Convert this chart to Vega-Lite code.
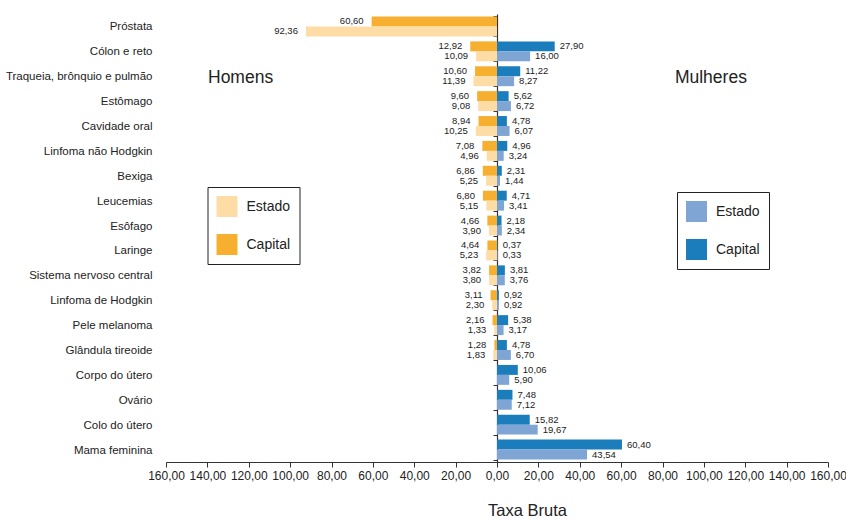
{
  "$schema": "https://vega.github.io/schema/vega-lite/v6.json",
  "width": 662,
  "height": 448,
  "autosize": "none",
  "padding": {"left": 166, "top": 14, "right": 18, "bottom": 57},
  "background": "white",
  "config": {
    "font": "'Liberation Sans', Arial, sans-serif",
    "view": {"stroke": null},
    "legend": {
      "orient": "none",
      "strokeColor": "#222",
      "fillColor": "white",
      "padding": 9,
      "symbolType": "square",
      "symbolSize": 441,
      "symbolStrokeWidth": 0,
      "labelFontSize": 14,
      "labelColor": "#222",
      "labelOffset": 9,
      "rowPadding": 17,
      "title": null,
      "labelExpr": "datum.label + '\u00a0\u00a0\u00a0\u00a0'"
    }
  },
  "data": {
    "values": [
      {"cancer": "Próstata", "sexo": "Homens", "tipo": "Capital", "valor": 60.60},
      {"cancer": "Próstata", "sexo": "Homens", "tipo": "Estado", "valor": 92.36},
      {"cancer": "Cólon e reto", "sexo": "Homens", "tipo": "Capital", "valor": 12.92},
      {"cancer": "Cólon e reto", "sexo": "Homens", "tipo": "Estado", "valor": 10.09},
      {"cancer": "Cólon e reto", "sexo": "Mulheres", "tipo": "Capital", "valor": 27.90},
      {"cancer": "Cólon e reto", "sexo": "Mulheres", "tipo": "Estado", "valor": 16.00},
      {"cancer": "Traqueia, brônquio e pulmão", "sexo": "Homens", "tipo": "Capital", "valor": 10.60},
      {"cancer": "Traqueia, brônquio e pulmão", "sexo": "Homens", "tipo": "Estado", "valor": 11.39},
      {"cancer": "Traqueia, brônquio e pulmão", "sexo": "Mulheres", "tipo": "Capital", "valor": 11.22},
      {"cancer": "Traqueia, brônquio e pulmão", "sexo": "Mulheres", "tipo": "Estado", "valor": 8.27},
      {"cancer": "Estômago", "sexo": "Homens", "tipo": "Capital", "valor": 9.60},
      {"cancer": "Estômago", "sexo": "Homens", "tipo": "Estado", "valor": 9.08},
      {"cancer": "Estômago", "sexo": "Mulheres", "tipo": "Capital", "valor": 5.62},
      {"cancer": "Estômago", "sexo": "Mulheres", "tipo": "Estado", "valor": 6.72},
      {"cancer": "Cavidade oral", "sexo": "Homens", "tipo": "Capital", "valor": 8.94},
      {"cancer": "Cavidade oral", "sexo": "Homens", "tipo": "Estado", "valor": 10.25},
      {"cancer": "Cavidade oral", "sexo": "Mulheres", "tipo": "Capital", "valor": 4.78},
      {"cancer": "Cavidade oral", "sexo": "Mulheres", "tipo": "Estado", "valor": 6.07},
      {"cancer": "Linfoma não Hodgkin", "sexo": "Homens", "tipo": "Capital", "valor": 7.08},
      {"cancer": "Linfoma não Hodgkin", "sexo": "Homens", "tipo": "Estado", "valor": 4.96},
      {"cancer": "Linfoma não Hodgkin", "sexo": "Mulheres", "tipo": "Capital", "valor": 4.96},
      {"cancer": "Linfoma não Hodgkin", "sexo": "Mulheres", "tipo": "Estado", "valor": 3.24},
      {"cancer": "Bexiga", "sexo": "Homens", "tipo": "Capital", "valor": 6.86},
      {"cancer": "Bexiga", "sexo": "Homens", "tipo": "Estado", "valor": 5.25},
      {"cancer": "Bexiga", "sexo": "Mulheres", "tipo": "Capital", "valor": 2.31},
      {"cancer": "Bexiga", "sexo": "Mulheres", "tipo": "Estado", "valor": 1.44},
      {"cancer": "Leucemias", "sexo": "Homens", "tipo": "Capital", "valor": 6.80},
      {"cancer": "Leucemias", "sexo": "Homens", "tipo": "Estado", "valor": 5.15},
      {"cancer": "Leucemias", "sexo": "Mulheres", "tipo": "Capital", "valor": 4.71},
      {"cancer": "Leucemias", "sexo": "Mulheres", "tipo": "Estado", "valor": 3.41},
      {"cancer": "Esôfago", "sexo": "Homens", "tipo": "Capital", "valor": 4.66},
      {"cancer": "Esôfago", "sexo": "Homens", "tipo": "Estado", "valor": 3.90},
      {"cancer": "Esôfago", "sexo": "Mulheres", "tipo": "Capital", "valor": 2.18},
      {"cancer": "Esôfago", "sexo": "Mulheres", "tipo": "Estado", "valor": 2.34},
      {"cancer": "Laringe", "sexo": "Homens", "tipo": "Capital", "valor": 4.64},
      {"cancer": "Laringe", "sexo": "Homens", "tipo": "Estado", "valor": 5.23},
      {"cancer": "Laringe", "sexo": "Mulheres", "tipo": "Capital", "valor": 0.37},
      {"cancer": "Laringe", "sexo": "Mulheres", "tipo": "Estado", "valor": 0.33},
      {"cancer": "Sistema nervoso central", "sexo": "Homens", "tipo": "Capital", "valor": 3.82},
      {"cancer": "Sistema nervoso central", "sexo": "Homens", "tipo": "Estado", "valor": 3.80},
      {"cancer": "Sistema nervoso central", "sexo": "Mulheres", "tipo": "Capital", "valor": 3.81},
      {"cancer": "Sistema nervoso central", "sexo": "Mulheres", "tipo": "Estado", "valor": 3.76},
      {"cancer": "Linfoma de Hodgkin", "sexo": "Homens", "tipo": "Capital", "valor": 3.11},
      {"cancer": "Linfoma de Hodgkin", "sexo": "Homens", "tipo": "Estado", "valor": 2.30},
      {"cancer": "Linfoma de Hodgkin", "sexo": "Mulheres", "tipo": "Capital", "valor": 0.92},
      {"cancer": "Linfoma de Hodgkin", "sexo": "Mulheres", "tipo": "Estado", "valor": 0.92},
      {"cancer": "Pele melanoma", "sexo": "Homens", "tipo": "Capital", "valor": 2.16},
      {"cancer": "Pele melanoma", "sexo": "Homens", "tipo": "Estado", "valor": 1.33},
      {"cancer": "Pele melanoma", "sexo": "Mulheres", "tipo": "Capital", "valor": 5.38},
      {"cancer": "Pele melanoma", "sexo": "Mulheres", "tipo": "Estado", "valor": 3.17},
      {"cancer": "Glândula tireoide", "sexo": "Homens", "tipo": "Capital", "valor": 1.28},
      {"cancer": "Glândula tireoide", "sexo": "Homens", "tipo": "Estado", "valor": 1.83},
      {"cancer": "Glândula tireoide", "sexo": "Mulheres", "tipo": "Capital", "valor": 4.78},
      {"cancer": "Glândula tireoide", "sexo": "Mulheres", "tipo": "Estado", "valor": 6.70},
      {"cancer": "Corpo do útero", "sexo": "Mulheres", "tipo": "Capital", "valor": 10.06},
      {"cancer": "Corpo do útero", "sexo": "Mulheres", "tipo": "Estado", "valor": 5.90},
      {"cancer": "Ovário", "sexo": "Mulheres", "tipo": "Capital", "valor": 7.48},
      {"cancer": "Ovário", "sexo": "Mulheres", "tipo": "Estado", "valor": 7.12},
      {"cancer": "Colo do útero", "sexo": "Mulheres", "tipo": "Capital", "valor": 15.82},
      {"cancer": "Colo do útero", "sexo": "Mulheres", "tipo": "Estado", "valor": 19.67},
      {"cancer": "Mama feminina", "sexo": "Mulheres", "tipo": "Capital", "valor": 60.40},
      {"cancer": "Mama feminina", "sexo": "Mulheres", "tipo": "Estado", "valor": 43.54}
    ]
  },
  "transform": [
    {"calculate": "datum.sexo === 'Homens' ? -datum.valor : datum.valor", "as": "taxa"},
    {"calculate": "replace(format(datum.valor, '.2f'), '.', ',')", "as": "rotulo"}
  ],
  "resolve": {"scale": {"color": "independent"}, "axis": {"y": "independent"}, "legend": {"color": "independent"}},
  "layer": [
    {
      "transform": [{"filter": "datum.sexo === 'Homens'"}],
      "mark": {"type": "bar"},
      "encoding": {
        "y": {
          "field": "cancer", "type": "nominal",
          "scale": {"domain": ["Próstata", "Cólon e reto", "Traqueia, brônquio e pulmão", "Estômago", "Cavidade oral", "Linfoma não Hodgkin", "Bexiga", "Leucemias", "Esôfago", "Laringe", "Sistema nervoso central", "Linfoma de Hodgkin", "Pele melanoma", "Glândula tireoide", "Corpo do útero", "Ovário", "Colo do útero", "Mama feminina"], "paddingInner": 0.2, "paddingOuter": 0.1},
          "axis": {"title": null, "ticks": false, "domain": false, "labelPadding": 14, "labelFontSize": 11.5, "labelColor": "#222", "labelLimit": 300, "labelOffset": 1}
        },
        "yOffset": {"field": "tipo", "type": "nominal", "sort": ["Capital", "Estado"], "scale": {"paddingInner": 0, "paddingOuter": 0}},
        "x": {
          "field": "taxa", "type": "quantitative",
          "scale": {"domain": [-160, 160], "nice": false, "zero": false},
          "axis": {
            "values": [-160, -140, -120, -100, -80, -60, -40, -20, 0, 20, 40, 60, 80, 100, 120, 140, 160],
            "labelExpr": "replace(format(abs(datum.value), '.2f'), '.', ',')",
            "grid": false, "domainColor": "#333", "tickColor": "#333", "tickSize": 5,
            "labelFontSize": 12, "labelColor": "#222", "labelPadding": 3, "labelOverlap": false, "labelFlush": false, "labelBound": false,
            "title": "Taxa Bruta", "titleFontSize": 16.5, "titleFontWeight": "normal", "titleColor": "#222",
            "titleX": 361, "titleY": 48, "titleBaseline": "middle", "titleAlign": "center"
          }
        },
        "color": {
          "field": "tipo", "type": "nominal",
          "scale": {"domain": ["Estado", "Capital"], "range": ["#FDDCA6", "#F7AF30"]},
          "legend": {"legendX": 41.5, "legendY": 173}
        }
      }
    },
    {
      "transform": [{"filter": "datum.sexo === 'Mulheres'"}],
      "mark": {"type": "bar"},
      "encoding": {
        "y": {
          "field": "cancer", "type": "nominal",
          "scale": {"domain": ["Próstata", "Cólon e reto", "Traqueia, brônquio e pulmão", "Estômago", "Cavidade oral", "Linfoma não Hodgkin", "Bexiga", "Leucemias", "Esôfago", "Laringe", "Sistema nervoso central", "Linfoma de Hodgkin", "Pele melanoma", "Glândula tireoide", "Corpo do útero", "Ovário", "Colo do útero", "Mama feminina"]},
          "axis": {"title": null, "orient": "left", "offset": -331, "labels": false, "domain": true, "domainColor": "#333", "domainWidth": 1.2, "ticks": true, "tickBand": "extent", "tickSize": 4, "tickColor": "#333", "grid": false}
        },
        "yOffset": {"field": "tipo", "type": "nominal", "sort": ["Capital", "Estado"]},
        "x": {"field": "taxa", "type": "quantitative"},
        "color": {
          "field": "tipo", "type": "nominal",
          "scale": {"domain": ["Estado", "Capital"], "range": ["#7EA5D3", "#1B7DBB"]},
          "legend": {"legendX": 511, "legendY": 178}
        }
      }
    },
    {
      "transform": [{"filter": "datum.sexo === 'Homens'"}],
      "mark": {"type": "text", "align": "right", "baseline": "middle", "dx": -8, "fontSize": 9.5, "color": "#222"},
      "encoding": {
        "y": {"field": "cancer", "type": "nominal", "axis": null, "scale": {"domain": ["Próstata", "Cólon e reto", "Traqueia, brônquio e pulmão", "Estômago", "Cavidade oral", "Linfoma não Hodgkin", "Bexiga", "Leucemias", "Esôfago", "Laringe", "Sistema nervoso central", "Linfoma de Hodgkin", "Pele melanoma", "Glândula tireoide", "Corpo do útero", "Ovário", "Colo do útero", "Mama feminina"]}},
        "yOffset": {"field": "tipo", "type": "nominal", "sort": ["Capital", "Estado"]},
        "x": {"field": "taxa", "type": "quantitative"},
        "text": {"field": "rotulo"}
      }
    },
    {
      "transform": [{"filter": "datum.sexo === 'Mulheres'"}],
      "mark": {"type": "text", "align": "left", "baseline": "middle", "dx": 5, "fontSize": 9.5, "color": "#222"},
      "encoding": {
        "y": {"field": "cancer", "type": "nominal", "axis": null, "scale": {"domain": ["Próstata", "Cólon e reto", "Traqueia, brônquio e pulmão", "Estômago", "Cavidade oral", "Linfoma não Hodgkin", "Bexiga", "Leucemias", "Esôfago", "Laringe", "Sistema nervoso central", "Linfoma de Hodgkin", "Pele melanoma", "Glândula tireoide", "Corpo do útero", "Ovário", "Colo do útero", "Mama feminina"]}},
        "yOffset": {"field": "tipo", "type": "nominal", "sort": ["Capital", "Estado"]},
        "x": {"field": "taxa", "type": "quantitative"},
        "text": {"field": "rotulo"}
      }
    },
    {
      "data": {"values": [{"rotulo": "Homens", "pos": -139.7}, {"rotulo": "Mulheres", "pos": 86}]},
      "mark": {"type": "text", "align": "left", "baseline": "middle", "dy": 2, "fontSize": 17.5, "color": "#222"},
      "encoding": {
        "y": {"datum": "Traqueia, brônquio e pulmão", "type": "nominal", "axis": null, "scale": {"domain": ["Próstata", "Cólon e reto", "Traqueia, brônquio e pulmão", "Estômago", "Cavidade oral", "Linfoma não Hodgkin", "Bexiga", "Leucemias", "Esôfago", "Laringe", "Sistema nervoso central", "Linfoma de Hodgkin", "Pele melanoma", "Glândula tireoide", "Corpo do útero", "Ovário", "Colo do útero", "Mama feminina"]}},
        "x": {"field": "pos", "type": "quantitative"},
        "text": {"field": "rotulo"}
      }
    }
  ]
}
